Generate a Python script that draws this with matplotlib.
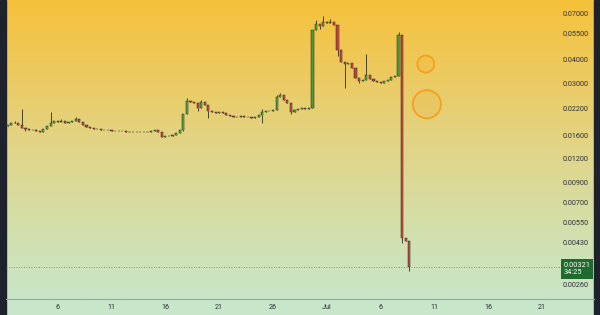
import numpy as np
import matplotlib
matplotlib.use('Agg')
import matplotlib.pyplot as plt
from matplotlib.colors import LinearSegmentedColormap
from matplotlib.patches import Rectangle
from matplotlib.ticker import NullLocator

#---------------------------------------------------------------------------------------------
# data (8h candles, days counted from Jun 1)

first_open = 0.0180
closes = [0.0178, 0.0181, 0.0185, 0.0185, 0.0181, 0.0174, 0.0172, 0.0170, 0.0170, 0.0168,
          0.0166, 0.0172, 0.0178, 0.0185, 0.0190, 0.0187, 0.0190, 0.0185, 0.0187, 0.0190,
          0.0195, 0.0187, 0.0181, 0.0176, 0.0174, 0.0172, 0.0172, 0.0170, 0.0170, 0.0170,
          0.0168, 0.0168, 0.0168, 0.0168, 0.0166, 0.0166, 0.0166, 0.0166, 0.0166, 0.0166,
          0.0166, 0.0168, 0.0170, 0.0166, 0.0156, 0.0158, 0.0158, 0.0160, 0.0164, 0.0170,
          0.0207, 0.0242, 0.0239, 0.0236, 0.0222, 0.0239, 0.0230, 0.0215, 0.0212, 0.0209,
          0.0212, 0.0209, 0.0204, 0.0202, 0.0199, 0.0199, 0.0202, 0.0199, 0.0199, 0.0197,
          0.0199, 0.0204, 0.0212, 0.0215, 0.0215, 0.0217, 0.0254, 0.0261, 0.0245, 0.0236,
          0.0212, 0.0217, 0.0220, 0.0222, 0.0220, 0.0222, 0.0576, 0.0620, 0.0605, 0.0635,
          0.0627, 0.0635, 0.0612, 0.0451, 0.0390, 0.0381, 0.0385, 0.0362, 0.0321, 0.0309,
          0.0313, 0.0333, 0.0317, 0.0309, 0.0306, 0.0302, 0.0309, 0.0313, 0.0325, 0.0329,
          0.0542, 0.00456, 0.00440, 0.00321]

# wicks that stick out of the bodies
wick_highs = {3: 0.0190, 5: 0.0220, 9: 0.0172, 13: 0.0212, 16: 0.0195, 20: 0.0199, 44: 0.0166,
              51: 0.0250, 55: 0.0245, 72: 0.0220, 76: 0.0262, 77: 0.0266, 87: 0.0650,
              89: 0.0683, 91: 0.0660, 94: 0.0410, 101: 0.0432, 110: 0.0562}
wick_lows = {6: 0.0168, 50: 0.0168, 54: 0.0215, 57: 0.0197, 72: 0.0185, 80: 0.0208,
             88: 0.0580, 93: 0.0420, 95: 0.0284, 99: 0.0300, 111: 0.00429, 113: 0.00305}

last_price = 0.00321
countdown = '34:25'

price_ticks = [0.07, 0.055, 0.04, 0.03, 0.022, 0.016, 0.012, 0.009, 0.007, 0.0055, 0.0043, 0.0026]
date_ticks = [5, 10, 15, 20, 25, 30, 35, 40, 45, 50]
date_labels = ['6', '11', '16', '21', '26', 'Jul', '6', '11', '16', '21']

# the two orange circles drawn on the chart
circle_days = [39.2, 39.3]
circle_prices = [0.0380, 0.0233]
circle_sizes = [150, 410]

#---------------------------------------------------------------------------------------------

opens = [first_open] + closes[:-1]
n = len(closes)
t = np.arange(n) / 3.0
highs = [wick_highs.get(i, max(opens[i], closes[i])) for i in range(n)]
lows = [wick_lows.get(i, min(opens[i], closes[i])) for i in range(n)]

plt.rcParams['font.family'] = ['Roboto', 'DejaVu Sans']

fig = plt.figure(figsize=(6, 3.15), dpi=100)
fig.patch.set_facecolor('#c8e6c9')
rect = [6/600, 16/315, 588/600, 299/315]

# gradient background
bg = fig.add_axes(rect, zorder=0)
cmap = LinearSegmentedColormap.from_list('bg', [(0, '#c8e6c9'), (0.25, '#d3dfa9'),
                                              (0.5, '#e1d588'), (0.75, '#ecca60'),
                                              (1, '#f6c13a')])
bg.imshow(np.linspace(0, 1, 256).reshape(-1, 1)[::-1], aspect='auto', cmap=cmap,
          extent=[0, 1, 0, 1])
bg.axis('off')

ax = fig.add_axes(rect, zorder=1)
ax.set_facecolor('none')
ax.set_yscale('log')

up = np.array([closes[i] >= opens[i] for i in range(n)])
body_colors = ['#4c9a3a' if u else '#b5483c' for u in up]
bottoms = np.array([min(opens[i], closes[i]) for i in range(n)])
tops = np.array([max(opens[i], closes[i]) for i in range(n)])

# wicks
ax.vlines(t, lows, highs, color='#2a2a20', lw=0.6, zorder=2)
# thin bodies, dark outline like the small candles in the picture
ax.bar(t, tops - bottoms, bottom=bottoms, width=0.2, color=body_colors,
       edgecolor='#262620', lw=0.35, zorder=3)
ax.vlines(t[~up], bottoms[~up], tops[~up], color='#b5483c', lw=0.8, zorder=3)
ax.vlines(t[up], bottoms[up], tops[up], color='#4c9a3a', lw=0.8, zorder=3)

# current price line and label
ax.axhline(last_price, color='#5d7d62', lw=0.6, ls=(0, (1, 2)), zorder=1)
ax.annotate(f'{last_price:.5f}\n{countdown}', xy=(0.994, last_price),
            xycoords=ax.get_yaxis_transform(), xytext=(0, 3.5), textcoords='offset points',
            ha='right', va='top', multialignment='left', fontsize=5.3, color='white',
            linespacing=1.1,
            bbox=dict(boxstyle='square,pad=0.4', fc='#1f6a2c', ec='none'), zorder=5)

ax.scatter(circle_days, circle_prices, s=circle_sizes, facecolor=(0.96, 0.62, 0.1, 0.15),
           edgecolor='#f5a01e', lw=1.3, zorder=4)

ax.set_xlim(0.19, 54.83)
ax.set_ylim(0.002167, 0.0830)

ax.yaxis.tick_right()
ax.set_yticks(price_ticks)
ax.set_yticklabels([f'{p:.5f}' for p in price_ticks])
ax.yaxis.set_minor_locator(NullLocator())
ax.tick_params(axis='y', length=0, pad=-4, labelsize=5.2, labelcolor='#2b2f36')
for lab in ax.get_yticklabels():
    lab.set_horizontalalignment('right')

ax.set_xticks(date_ticks)
ax.set_xticklabels(date_labels)
ax.tick_params(axis='x', length=0, pad=3.5, labelsize=5.2, labelcolor='#2b2f36')

for s in ['top', 'left', 'right']:
    ax.spines[s].set_visible(False)
ax.spines['bottom'].set_color('#9aa89c')
ax.spines['bottom'].set_linewidth(0.8)

# dark frame strips on the sides
fig.add_artist(Rectangle((0, 0), 6/600, 1, transform=fig.transFigure, color='#1e222d'))
fig.add_artist(Rectangle((594/600, 0), 6/600, 1, transform=fig.transFigure, color='#1e222d'))

fig.savefig('out.png', dpi=100)
